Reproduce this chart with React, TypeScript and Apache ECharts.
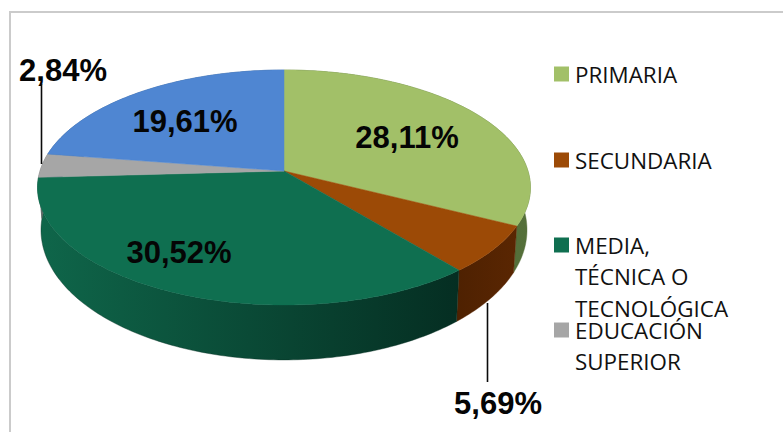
import React, { useEffect, useRef } from "react";
import * as echarts from "echarts";

const sliceNames = ["PRIMARIA", "SECUNDARIA", "MEDIA, TÉCNICA O TECNOLÓGICA", "EDUCACIÓN SUPERIOR", "SIN DATO"];
const sliceValues = [28.11, 5.69, 30.52, 2.84, 19.61];
const legendLines = [["PRIMARIA"], ["SECUNDARIA"], ["MEDIA,", "TÉCNICA O", "TECNOLÓGICA"], ["EDUCACIÓN", "SUPERIOR"]];

const topColors = ["#A2C068", "#9C4A06", "#0F6F50", "#A6A6A6", "#4F86D2"];
const wallStops = [
  ["#3F5A2C", "#55703A"],
  ["#4E2101", "#5A2602"],
  ["#0F664A", "#052E22"],
  ["#6A6A6A", "#6A6A6A"],
  ["#2F5585", "#2F5585"],
];
const labelPos = [[407, 137], [498, 403], [179, 252], [63, 70], [185, 121]];
const legendY = [74, 160, 245, 330];
const LINE_H = 31.5;

// perspective projection of a disc
const CX = 284;
const K = 0.1405;
const top = { r: 244, b: 115.2, y0: 171 };
const bot = { r: 240.6, b: 127.4, y0: 211.7 };
const proj = (p: { r: number; b: number; y0: number }, t: number, f = 1) => {
  const d = 1 + K * Math.cos(t) * f;
  return [CX + (p.r * f * Math.sin(t)) / d, p.y0 - (p.b * f * Math.cos(t)) / d];
};
const total = sliceValues.reduce((a, b) => a + b, 0);
const angles = (i: number) => {
  let a = 0;
  for (let k = 0; k < i; k++) a += sliceValues[k];
  return [(a / total) * 2 * Math.PI, ((a + sliceValues[i]) / total) * 2 * Math.PI];
};
const arc = (p: any, a: number, b: number) => {
  const n = Math.max(2, Math.ceil(((b - a) * 180) / Math.PI));
  const pts: number[][] = [];
  for (let j = 0; j <= n; j++) pts.push(proj(p, a + ((b - a) * j) / n));
  return pts;
};
const fmt = (v: number) => v.toFixed(2).replace(".", ",") + "%";

export default function App() {
  const ref = useRef<HTMLDivElement>(null);
  useEffect(() => {
    const chart = echarts.init(ref.current!, undefined, { renderer: "svg" });
    const renderWall = (params: any, api: any) => {
      const i = params.dataIndex;
      const [a, b] = angles(i);
      const points = [...arc(top, a, b), ...arc(bot, a, b).reverse()];
      const fill = new echarts.graphic.LinearGradient(0, 0, 1, 0, [
        { offset: 0, color: wallStops[i][0] },
        { offset: 1, color: wallStops[i][1] },
      ]);
      return { type: "polygon", shape: { points }, style: { fill, stroke: wallStops[i][1], lineWidth: 0.4 } };
    };
    const renderTop = (params: any, api: any) => {
      const i = params.dataIndex;
      const [a, b] = angles(i);
      const points = [[CX, top.y0], ...arc(top, a, b)];
      return { type: "polygon", shape: { points }, style: { fill: topColors[i], stroke: topColors[i], lineWidth: 0.5 } };
    };
    const renderLabel = (params: any, api: any) => {
      const i = params.dataIndex;
      return {
        type: "text",
        x: labelPos[i][0],
        y: labelPos[i][1],
        style: {
          text: fmt(api.value(0)),
          fill: "#050505",
          font: "bold 31px 'Liberation Sans', Arial, sans-serif",
          textAlign: "center",
          textVerticalAlign: "middle",
        },
      };
    };
    const data = sliceValues.map((value, i) => ({ name: sliceNames[i], value: [value] }));
    const graphic: any[] = [
      { type: "line", shape: { x1: 9, y1: 12, x2: 783, y2: 12 }, style: { stroke: "#CBCBCB", lineWidth: 2 }, z: 0 },
      { type: "line", shape: { x1: 10, y1: 11, x2: 10, y2: 432 }, style: { stroke: "#CBCBCB", lineWidth: 2 }, z: 0 },
      { type: "line", shape: { x1: 41.5, y1: 84, x2: 41.5, y2: 164 }, style: { stroke: "#0A0A0A", lineWidth: 1.6 }, z: 50 },
      { type: "line", shape: { x1: 487.5, y1: 303, x2: 487.5, y2: 382 }, style: { stroke: "#0A0A0A", lineWidth: 1.6 }, z: 50 },
    ];
    legendLines.forEach((lines, i) => {
      graphic.push({ type: "rect", shape: { x: 554, y: legendY[i] - 7.5, width: 15, height: 15 }, style: { fill: topColors[i] }, z: 50 });
      lines.forEach((line, j) => {
        graphic.push({
          type: "text",
          x: 575,
          y: legendY[i] + j * LINE_H,
          style: { text: line, fill: "#111111", font: "22.4px 'Open Sans', sans-serif", textAlign: "left", textVerticalAlign: "middle" },
          z: 50,
        });
      });
    });
    chart.setOption({
      animation: false,
      backgroundColor: "#FFFFFF",
      graphic,
      series: [
        { type: "custom", name: "wall", coordinateSystem: "none", renderItem: renderWall, data, z: 2, silent: true },
        { type: "custom", name: "top", coordinateSystem: "none", renderItem: renderTop, data, z: 3, silent: true },
        { type: "custom", name: "labels", coordinateSystem: "none", renderItem: renderLabel, data, z: 4, silent: true },
      ],
    });
    return () => chart.dispose();
  }, []);
  return <div ref={ref} style={{ position: "absolute", left: 0, top: 0, width: 783, height: 432 }} />;
}
